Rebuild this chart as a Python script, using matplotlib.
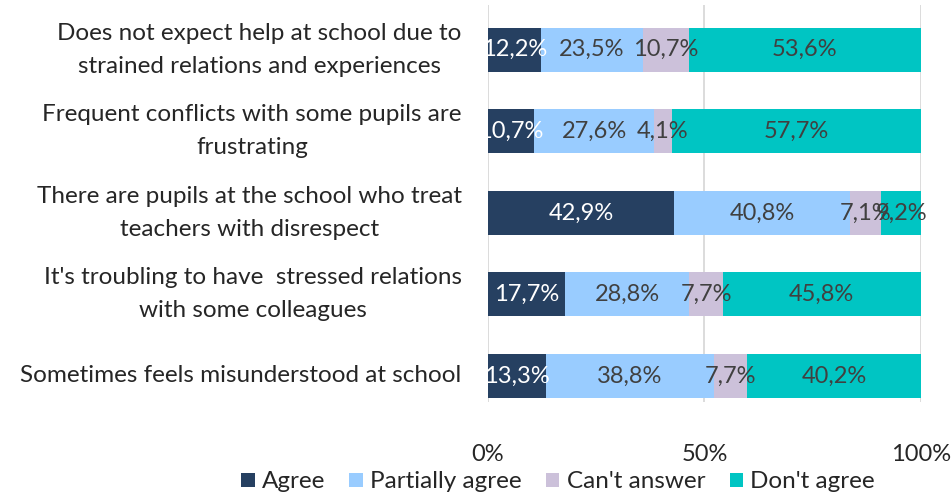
import matplotlib
matplotlib.use("Agg")
import matplotlib.pyplot as plt
import numpy as np

categories = [
    "Does not expect help at school due to\nstrained relations and experiences",
    "Frequent conflicts with some pupils are\nfrustrating",
    "There are pupils at the school who treat\nteachers with disrespect",
    "It's troubling to have  stressed relations\nwith some colleagues",
    "Sometimes feels misunderstood at school",
]
series_names = ["Agree", "Partially agree", "Can't answer", "Don't agree"]
agree = [12.2, 10.7, 42.9, 17.7, 13.3]
partially = [23.5, 27.6, 40.8, 28.8, 38.8]
cant_answer = [10.7, 4.1, 7.1, 7.7, 7.7]
dont_agree = [53.6, 57.7, 9.2, 45.8, 40.2]
tick_labels = ["0%", "50%", "100%"]

colors = ["#264061", "#99CCFF", "#CCC1DA", "#00C5C3"]
text_colors = ["white", "#404040", "#404040", "#404040"]

plt.rcParams["font.family"] = ["Lato", "DejaVu Sans"]

fig = plt.figure(figsize=(9.53, 4.97), dpi=100)
ax = fig.add_axes([488 / 953, 1 - 402 / 497, (921 - 488) / 953, (402 - 5) / 497])

values = [agree, partially, cant_answer, dont_agree]
y = np.arange(len(categories))
left = np.zeros(len(categories))
for vals, name, col, tcol in zip(values, series_names, colors, text_colors):
    v = np.array(vals) / 100.0
    ax.barh(y, v, left=left, height=0.54, color=col, label=name, zorder=3)
    for yi, (l, w, raw) in enumerate(zip(left, v, vals)):
        ax.text(l + w / 2, yi, f"{raw:.1f}%".replace(".", ","), ha="center", va="center",
                color=tcol, fontsize=17, zorder=4)
    left += v

ax.set_xlim(0, 1)
ax.set_ylim(len(categories) - 1 + 0.32, -0.55)
ax.set_xticks([0, 0.5, 1.0])
ax.set_xticklabels(tick_labels, fontsize=17, color="#262626")
ax.tick_params(axis="x", length=0, pad=30)
ax.set_yticks(y)
ax.set_yticklabels(categories, fontsize=17.5, color="#262626")
for lab in ax.get_yticklabels():
    lab.set_multialignment("center")
    lab.set_linespacing(1.7)
    lab.set_verticalalignment("center")
ax.tick_params(axis="y", length=0, pad=19)
ax.grid(axis="x", color="#D9D9D9", linewidth=1.3, zorder=0)
for s in ax.spines.values():
    s.set_visible(False)

handles, labels = ax.get_legend_handles_labels()
fig.legend(handles, labels, loc="center", bbox_to_anchor=(558 / 953, 1 - 482 / 497), ncol=4,
           frameon=False, fontsize=17.5, handlelength=0.55, handleheight=0.55,
           handletextpad=0.3, columnspacing=1.0, labelcolor="#262626")

fig.savefig("out.png", dpi=100)
